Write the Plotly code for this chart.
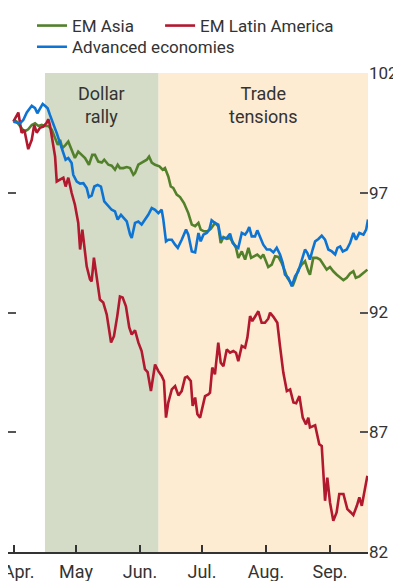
import plotly.graph_objs as go
import pandas as pd

# days after 1 April 2018, index level
base_date = '2018-04-01'

asia_days = [-0.3, 1.3, 2.9, 5.0, 6.9, 8.6, 10.2, 11.8, 13.4, 15.0, 16.6, 18.3, 19.9, 21.2, 22.3, 23.4,
             25.0, 26.3, 27.6, 29.5, 31.1, 32.8, 34.4, 36.3, 37.9, 39.2, 40.8, 42.5, 43.7, 45.7, 47.3,
             48.9, 50.2, 51.3, 52.9, 54.6, 56.2, 57.8, 58.6, 60.2, 62.6, 64.3, 65.4, 66.7, 68.3, 70.4,
             72.0, 73.1, 74.7, 75.9, 77.1, 78.8, 80.4, 82.3, 84.4, 86.1, 87.7, 89.3, 90.4, 92.0, 93.6,
             95.3, 97.3, 98.9, 100.1, 101.4, 103.0, 104.6, 106.2, 107.5, 108.6, 110.3, 111.9, 113.5,
             114.8, 116.2, 117.8, 119.5, 120.7, 122.0, 123.1, 124.8, 126.4, 128.0, 129.6, 131.2, 132.3,
             134.0, 134.9, 136.1, 137.7, 139.3, 140.9, 142.5, 143.3, 144.9, 146.6, 148.2, 149.8, 151.4,
             153.0, 154.6, 156.3, 157.9, 159.5, 161.1, 162.7, 164.3, 165.5, 167.2, 169.2, 171.1]
asia_vals = [100.04, 99.97, 99.79, 99.55, 99.65, 99.83, 99.9, 99.79, 99.83, 99.79, 99.79, 99.63, 99.28,
             99.0, 99.21, 98.86, 99.0, 99.14, 98.86, 98.45, 98.72, 98.58, 98.45, 98.17, 98.58, 98.58,
             98.3, 98.26, 98.38, 98.17, 98.13, 97.96, 98.17, 98.03, 98.03, 98.07, 98.03, 97.75, 97.82,
             98.17, 98.3, 98.38, 98.51, 98.26, 98.17, 98.1, 97.96, 98.03, 97.68, 97.26, 97.2, 96.92,
             96.82, 96.57, 96.15, 95.67, 95.6, 95.74, 95.46, 95.39, 95.39, 95.49, 95.74, 95.6, 94.9,
             95.15, 95.07, 95.11, 94.9, 94.7, 94.28, 94.55, 94.21, 94.7, 94.28, 94.35, 94.42, 94.28,
             94.42, 94.14, 93.9, 94.0, 94.35, 94.32, 94.07, 93.72, 93.45, 93.24, 93.1, 93.38, 93.79,
             94.0, 94.14, 93.72, 93.58, 94.28, 94.28, 94.21, 94.0, 93.79, 93.9, 93.72, 93.58, 93.45,
             93.35, 93.45, 93.63, 93.72, 93.45, 93.51, 93.65, 93.79]

latam_days = [-0.3, 2.1, 3.7, 5.0, 6.9, 8.6, 9.8, 11.0, 12.6, 14.2, 15.8, 16.6, 17.4, 19.0, 19.9, 20.7,
              22.3, 23.9, 25.0, 26.3, 27.9, 29.5, 31.1, 32.0, 33.1, 35.2, 36.8, 37.6, 38.7, 40.3, 41.6,
              43.2, 44.9, 47.0, 48.4, 50.0, 51.3, 52.6, 54.2, 55.8, 57.0, 58.6, 60.2, 61.8, 63.4, 64.7,
              66.3, 68.3, 69.9, 71.5, 72.6, 73.6, 74.7, 76.4, 78.0, 79.6, 81.2, 82.8, 83.9, 85.6, 86.5,
              87.7, 88.8, 90.1, 91.4, 92.5, 94.1, 94.9, 96.0, 97.3, 98.9, 100.1, 101.4, 103.0, 104.6,
              106.2, 107.5, 108.6, 110.3, 111.9, 113.0, 114.3, 115.4, 116.7, 118.3, 119.9, 121.5, 123.1,
              124.0, 125.6, 127.5, 128.8, 130.4, 132.1, 133.7, 135.3, 136.6, 138.2, 139.8, 141.4, 142.5,
              143.3, 145.8, 147.8, 149.0, 150.6, 151.7, 153.0, 154.6, 156.2, 157.5, 159.5, 161.4, 163.1,
              164.3, 166.0, 167.2, 168.4, 170.0, 171.1]
latam_vals = [99.97, 100.35, 99.5, 99.63, 98.82, 99.21, 99.83, 99.51, 99.71, 99.76, 99.92, 100.07, 99.83,
              99.08, 98.51, 97.47, 97.54, 97.63, 97.26, 97.63, 97.0, 96.5, 95.75, 94.63, 95.46, 93.93,
              93.38, 93.3, 94.29, 93.25, 92.54, 92.42, 91.92, 90.75, 91.01, 91.85, 92.67, 92.63, 92.26,
              91.38, 91.08, 91.26, 90.75, 90.39, 89.63, 89.51, 88.72, 89.83, 89.55, 89.35, 89.14, 87.61,
              88.24, 88.79, 88.93, 88.54, 88.72, 89.28, 89.32, 89.14, 88.1, 88.45, 87.75, 87.61, 88.1,
              88.51, 88.58, 88.65, 89.7, 89.42, 90.74, 89.9, 89.76, 90.46, 90.32, 90.39, 90.32, 89.97,
              90.6, 90.53, 90.95, 91.85, 91.64, 91.85, 92.05, 91.57, 91.57, 91.74, 91.99, 91.82, 91.57,
              90.6, 89.49, 88.72, 88.79, 88.24, 88.21, 88.51, 87.61, 87.33, 87.61, 87.2, 87.29, 86.5,
              86.43, 84.14, 85.11, 84.07, 83.3, 83.65, 84.42, 84.42, 83.79, 83.65, 83.54, 83.93, 84.28,
              83.93, 84.7, 85.18]

adv_days = [-0.3, 2.9, 4.5, 6.2, 8.6, 10.2, 11.3, 12.6, 13.9, 15.4, 16.3, 17.4, 19.0, 20.7, 22.3, 23.9,
            25.0, 26.3, 27.9, 28.7, 30.4, 32.0, 33.6, 35.2, 36.3, 37.6, 38.9, 40.5, 42.1, 43.7, 45.7,
            47.3, 48.9, 50.2, 51.8, 52.9, 54.6, 56.2, 57.0, 58.6, 60.2, 61.8, 63.4, 65.0, 66.7, 68.3,
            69.9, 71.5, 72.3, 73.6, 74.7, 76.4, 78.0, 79.3, 81.2, 83.3, 84.4, 86.1, 87.7, 89.3, 90.4,
            91.7, 93.3, 94.6, 95.7, 97.3, 98.9, 100.1, 101.4, 103.0, 104.6, 105.9, 107.5, 108.6, 110.3,
            111.9, 113.0, 113.9, 115.1, 116.7, 117.8, 119.1, 120.7, 122.4, 124.0, 125.6, 127.2, 128.8,
            130.1, 131.2, 132.8, 134.5, 136.1, 137.7, 139.3, 140.9, 142.0, 143.3, 144.6, 145.8, 147.4,
            149.0, 150.6, 152.2, 153.9, 155.5, 156.6, 157.9, 159.2, 161.1, 162.7, 164.3, 165.6, 167.2,
            169.2, 170.5, 171.4]
adv_vals = [99.97, 99.9, 100.04, 100.35, 100.63, 100.53, 100.32, 100.53, 100.71, 100.6, 100.53, 100.25,
            99.9, 99.49, 99.07, 98.65, 98.38, 98.45, 98.24, 97.75, 97.47, 97.38, 97.4, 97.2, 96.82,
            96.88, 97.26, 97.33, 97.26, 96.64, 96.43, 96.29, 96.22, 95.88, 96.08, 95.95, 95.8, 95.25,
            95.11, 95.74, 95.8, 95.67, 95.88, 96.08, 96.36, 96.29, 96.15, 96.29, 95.88, 94.97, 95.04,
            95.04, 94.83, 94.7, 95.04, 95.46, 95.25, 94.55, 94.51, 95.32, 94.97, 95.25, 95.32, 95.46,
            95.85, 95.74, 95.67, 95.11, 95.11, 95.11, 95.29, 94.9, 94.76, 94.7, 95.32, 95.25, 95.39,
            95.57, 95.18, 95.18, 95.43, 95.18, 94.83, 94.63, 94.63, 94.51, 94.7, 94.42, 94.07, 93.58,
            93.45, 93.1, 93.51, 93.72, 94.21, 94.63, 94.49, 94.21, 94.63, 94.97, 95.07, 95.21, 95.04,
            94.63, 94.55, 94.42, 94.7, 94.76, 94.55, 94.63, 94.9, 95.32, 95.04, 95.32, 95.25, 95.46,
            95.88]

periods = ['Dollar<br>rally', 'Trade<br>tensions']
period_start = ['2018-04-16', '2018-06-10']
period_end = ['2018-06-10', '2018-09-19 10:00']
period_colors = ['#d4dcc7', '#fdebd2']

month_ticks = ['2018-04-01', '2018-05-01', '2018-06-01', '2018-07-01', '2018-08-01', '2018-09-01']
# en space in front of Apr. keeps it from running off the left edge
month_labels = ['\u2002Apr.', 'May', 'Jun.', 'Jul.', 'Aug.', 'Sep.']
y_ticks = [82, 87, 92, 97, 102]

FONT = 'Liberation Sans Narrow, Arial Narrow, Roboto, sans-serif'
TEXT = '#333333'


def to_dates(days):
    return pd.Timestamp(base_date) + pd.to_timedelta(days, unit='D')


# name, days, values, colour, which legend box it sits in
series = [
    ('EM Asia', asia_days, asia_vals, '#52802b', 'legend'),
    ('EM Latin America', latam_days, latam_vals, '#b2182e', 'legend2'),
    ('Advanced economies', adv_days, adv_vals, '#0d74d4', 'legend3'),
]

data = []
for name, days, vals, color, leg in series:
    trace = go.Scatter(
        x=to_dates(days),
        y=vals,
        name=name,
        mode='lines',
        legend=leg,
        line=dict(color=color, width=2.6)
    )
    data.append(trace)

shapes = []
annotations = []
for label, x0, x1, col in zip(periods, period_start, period_end, period_colors):
    shapes.append(dict(type='rect', xref='x', yref='paper', x0=x0, x1=x1, y0=0, y1=1,
                       fillcolor=col, line=dict(width=0), layer='below'))
    mid = pd.Timestamp(x0) + (pd.Timestamp(x1) - pd.Timestamp(x0)) / 2
    annotations.append(dict(x=mid, y=1, xref='x', yref='paper', yanchor='top', yshift=-8,
                            text=label, showarrow=False,
                            font=dict(family=FONT, size=18, color=TEXT)))


def legend_box(x, y):
    return dict(
        orientation='h',
        xref='container',
        yref='container',
        x=x,
        y=y,
        xanchor='left',
        yanchor='top',
        font=dict(family=FONT, size=17, color=TEXT),
        bgcolor='rgba(0,0,0,0)',
        itemwidth=30
    )


# the page body adds an 8px offset, so the figure is 8px smaller each way
layout = go.Layout(
    width=393,
    height=573,
    margin=dict(l=0, r=33, t=65, b=29),
    paper_bgcolor='white',
    plot_bgcolor='white',
    font=dict(family=FONT, size=18, color=TEXT),
    showlegend=True,
    legend=legend_box(0.061, 1),
    legend2=legend_box(0.387, 1),
    legend3=legend_box(0.061, 0.963),
    shapes=shapes,
    annotations=annotations,
    xaxis=dict(
        type='date',
        range=[to_dates(-2.9), to_dates(171.4)],
        tickvals=month_ticks,
        ticktext=month_labels,
        ticks='inside',
        ticklen=7,
        tickwidth=1.5,
        tickcolor=TEXT,
        ticklabelstandoff=3,
        ticklabeloverflow='allow',
        showline=True,
        linecolor=TEXT,
        linewidth=1.5,
        showgrid=False,
        zeroline=False,
        automargin=False
    ),
    yaxis=dict(
        range=[82, 102],
        side='right',
        tickvals=y_ticks,
        ticks='inside',
        ticklen=8,
        tickwidth=1.5,
        tickcolor='#555555',
        tickfont=dict(size=17),
        mirror='ticks',
        showline=False,
        showgrid=False,
        zeroline=False,
        automargin=False
    )
)

fig = go.Figure(data=data, layout=layout)
fig.write_html("out.html")
